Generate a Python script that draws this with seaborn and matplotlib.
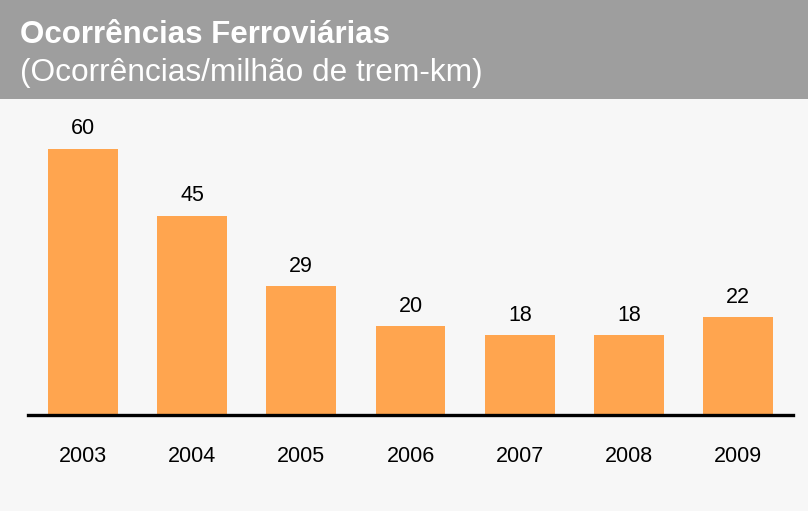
import matplotlib
matplotlib.use("Agg")
import matplotlib.pyplot as plt
import seaborn as sns
import pandas as pd
from matplotlib.patches import Rectangle

# values
years = ["2003", "2004", "2005", "2006", "2007", "2008", "2009"]
occurrences = [60, 45, 29, 20, 18, 18, 22]

title = "Ocorrências Ferroviárias"
subtitle = "(Ocorrências/milhão de trem-km)"

sns.set_style("white")
plt.rcParams["font.family"] = ["Liberation Sans", "DejaVu Sans"]

df = pd.DataFrame({"year": years, "value": occurrences})

fig = plt.figure(figsize=(8.08, 5.11), dpi=100)
fig.patch.set_facecolor("#f7f7f7")

# grey header band
fig.patches.append(Rectangle((0, 0.806), 1, 0.194, transform=fig.transFigure,
                             facecolor="#9e9e9e", edgecolor="none", zorder=0))
fig.text(0.025, 0.932, title, color="white", fontsize=22.5, fontweight="bold",
         va="center", ha="left")
fig.text(0.025, 0.858, subtitle, color="white", fontsize=22.8,
         va="center", ha="left")

ax = fig.add_axes([0.0347, 0.1879, 0.9467, 0.607])
ax.set_facecolor("#f7f7f7")
sns.barplot(data=df, x="year", y="value", color="#ffa54f", width=0.64,
            saturation=1, linewidth=0, ax=ax)

ax.bar_label(ax.containers[0], fmt="%d", padding=7, fontsize=15.5, color="black")

ax.set_xlim(-0.5, 6.5)
ax.set_ylim(0, 70)
ax.set_xlabel("")
ax.set_ylabel("")
ax.set_yticks([])
ax.tick_params(axis="x", length=0, pad=22, labelsize=15.5, labelcolor="black")

for side in ["top", "left", "right"]:
    ax.spines[side].set_visible(False)
ax.spines["bottom"].set_color("black")
ax.spines["bottom"].set_linewidth(2.4)

fig.savefig("out.png", dpi=100, facecolor=fig.get_facecolor())
